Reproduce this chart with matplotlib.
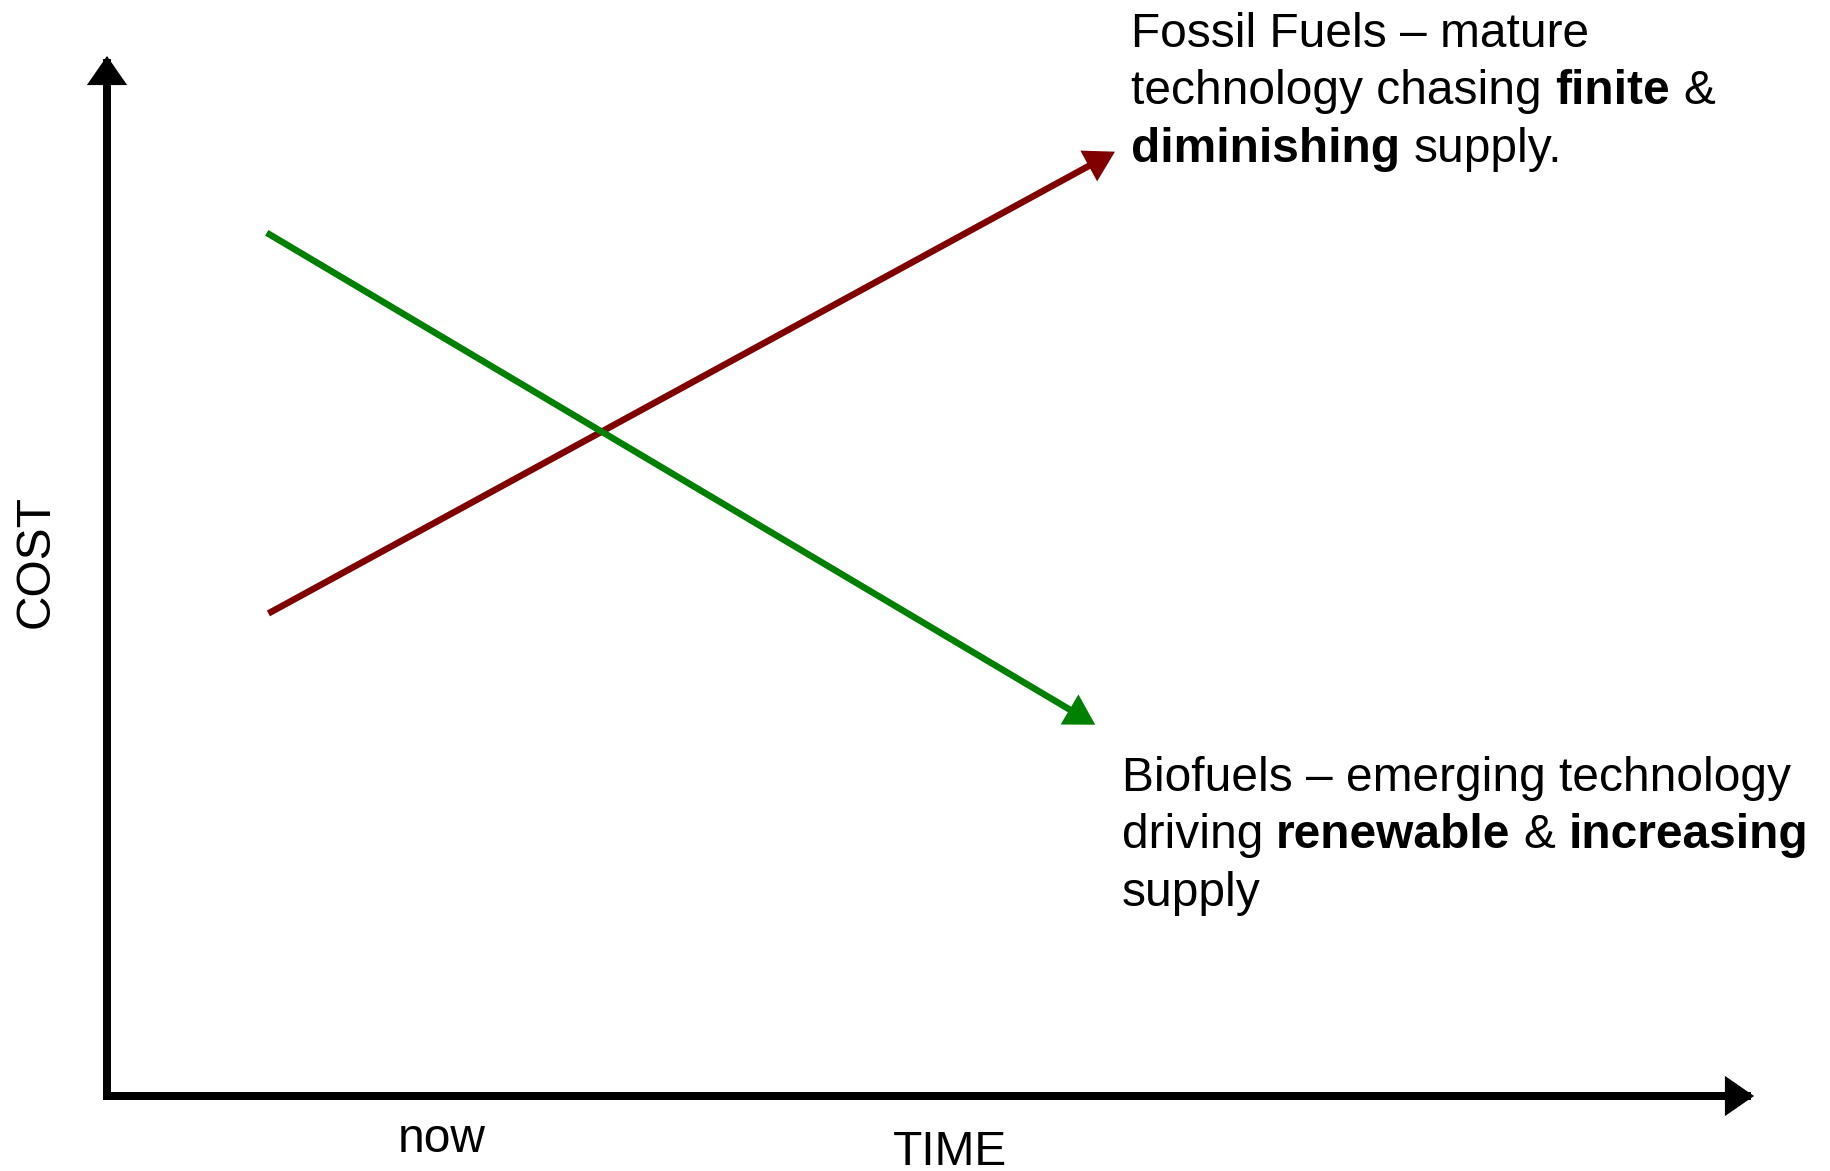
import matplotlib
matplotlib.use("Agg")
import matplotlib.pyplot as plt
from matplotlib.transforms import offset_copy

plt.rcParams['font.family'] = ['Liberation Sans', 'DejaVu Sans']

# axis ranges (arbitrary units)
time_range = [0, 100]
cost_range = [0, 100]

# trend lines
fossil_time = [9.8, 61.2]
fossil_cost = [46.4, 90.8]
bio_time = [9.7, 60.0]
bio_cost = [83.0, 35.7]

# annotation text, split into (text, weight) pieces per line
fossil_lines = [
    [("Fossil Fuels – mature", "normal")],
    [("technology chasing", "normal"), ("finite", "bold"), ("&", "normal")],
    [("diminishing", "bold"), ("supply.", "normal")],
]
bio_lines = [
    [("Biofuels – emerging technology", "normal")],
    [("driving", "normal"), ("renewable", "bold"), ("&", "normal"),
     ("increasing", "bold")],
    [("supply", "normal")],
]

FS = 34.5
W, H = 1830, 1171
fig = plt.figure(figsize=(W / 100, H / 100), dpi=100)
ax = fig.add_axes([107 / W, 75 / H, 1647 / W, 1040 / H])
ax.set_xlim(time_range)
ax.set_ylim(cost_range)
ax.axis('off')


def arrow(x, y, color, lw, hl, hw, cap='butt'):
    ax.annotate('', xy=(x[1], y[1]), xytext=(x[0], y[0]),
                arrowprops=dict(arrowstyle=f'-|>,head_length={hl},head_width={hw}',
                                color=color, lw=lw, shrinkA=0, shrinkB=0,
                                mutation_scale=1, capstyle=cap, joinstyle='miter'),
                annotation_clip=False)


# axes
arrow([time_range[0], time_range[0]], [cost_range[0], cost_range[1]],
      'black', 5.76, 13, 9, cap='projecting')
arrow([time_range[0], time_range[1]], [cost_range[0], cost_range[0]],
      'black', 5.76, 13, 9, cap='projecting')

# trends
arrow(fossil_time, fossil_cost, '#800000', 4.7, 14.5, 8.5)
arrow(bio_time, bio_cost, '#008000', 4.7, 14.5, 8.5)

renderer = fig.canvas.get_renderer()
t1 = ax.text(0, 0, "a a", fontsize=FS)
t2 = ax.text(0, 0, "aa", fontsize=FS)
space = t1.get_window_extent(renderer).width - t2.get_window_extent(renderer).width
t1.remove()
t2.remove()


def rich(x, y0, lines, step=5.53):
    for i, segs in enumerate(lines):
        y = y0 - i * step
        dx = 0
        for text, weight in segs:
            t = ax.text(x, y, text, fontsize=FS, fontweight=weight,
                        ha='left', va='baseline', clip_on=False,
                        transform=offset_copy(ax.transData, fig, x=dx, y=0, units='dots'))
            dx += t.get_window_extent(renderer).width + space


rich(62.2, 100.87, fossil_lines)
rich(61.6, 29.33, bio_lines)

ax.text(20.3, -5.4, "now", fontsize=FS, ha='center', va='baseline', clip_on=False)
ax.text(51.2, -6.6, "TIME", fontsize=FS, ha='center', va='baseline', clip_on=False)
ax.text(-4.3, 51.4, "COST", fontsize=FS, rotation=90, ha='center', va='center',
        clip_on=False)

fig.savefig("out.png", dpi=100)
